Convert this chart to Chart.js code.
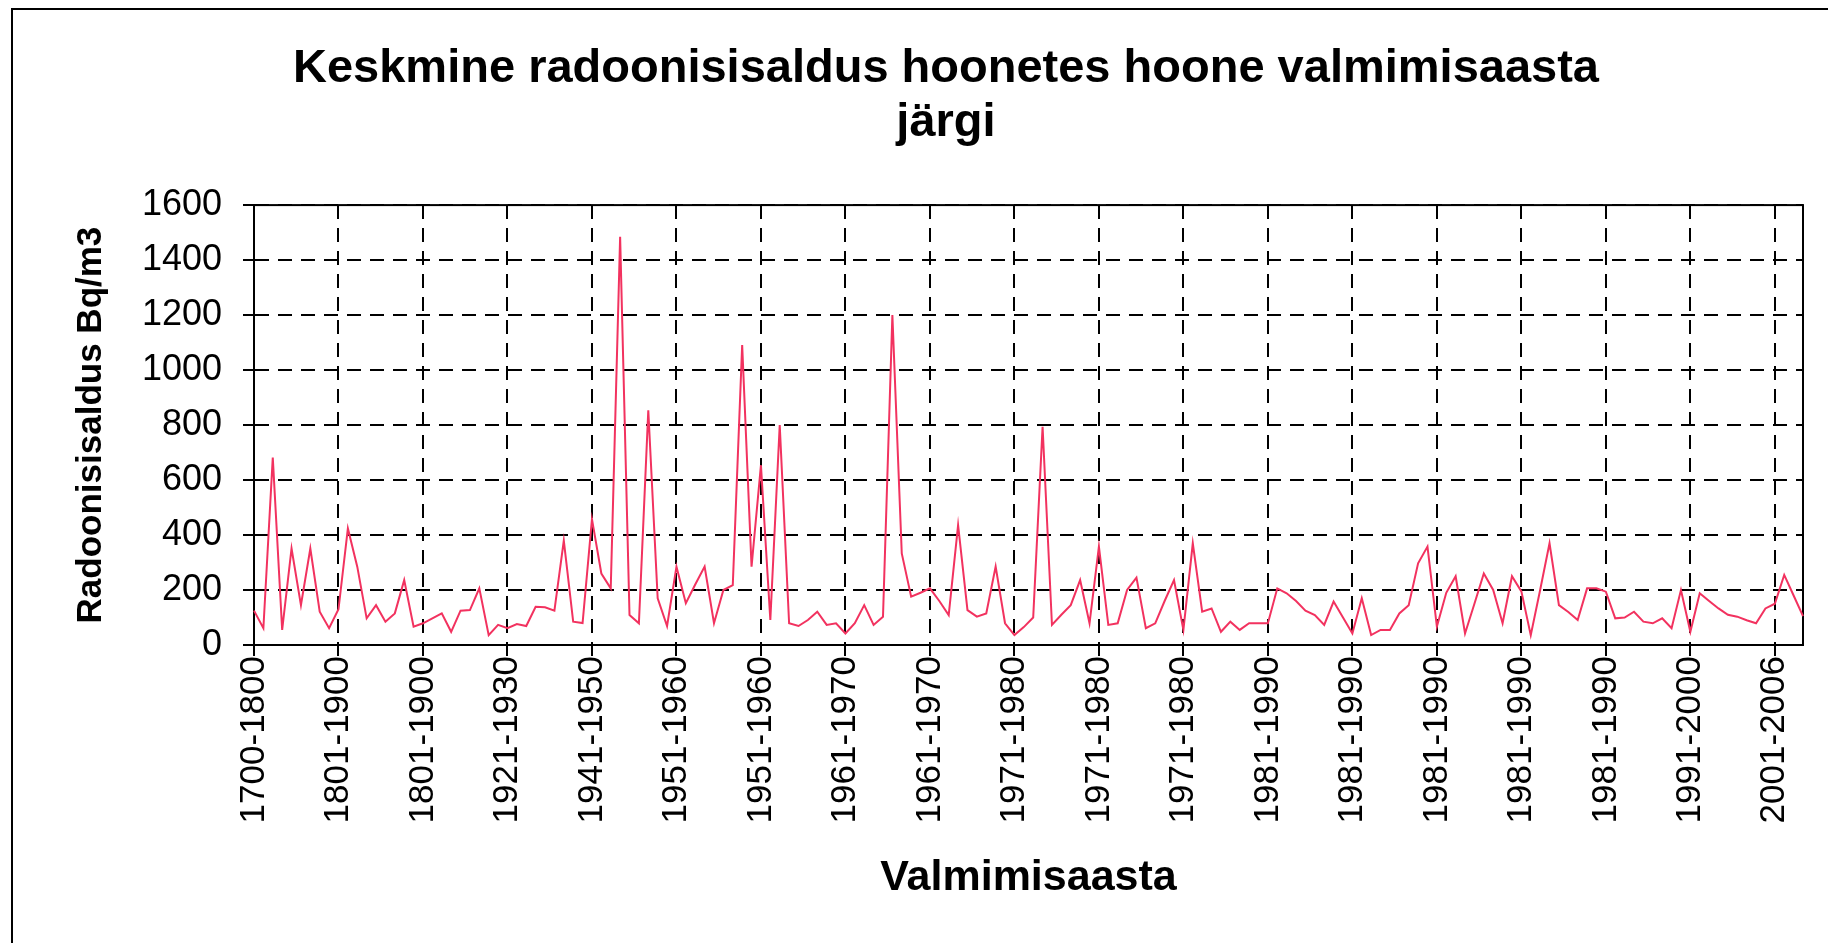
<!DOCTYPE html>
<html>
<head>
<meta charset="utf-8">
<title>Keskmine radoonisisaldus hoonetes</title>
<script src="https://cdn.jsdelivr.net/npm/chart.js@4.4.0/dist/chart.umd.min.js"></script>
<style>
    html, body { margin: 0; padding: 0; background: #fff; overflow: hidden; }
    #frame { position: absolute; left: 11px; top: 8px; width: 1900px; height: 1000px; border: 2px solid #000; }
    #chartBox { position: absolute; left: 0; top: 0; width: 1828px; height: 943px; }
</style>
</head>
<body>
<div id="frame"></div>
<div id="chartBox">
    <canvas id="radonCanvas" width="1828" height="943"></canvas>
</div>
<script>

// labels shown under every 9th point
const tickLabels = [
    '1700-1800', '1801-1900', '1801-1900', '1921-1930', '1941-1950',
    '1951-1960', '1951-1960', '1961-1970', '1961-1970', '1971-1980',
    '1971-1980', '1971-1980', '1981-1990', '1981-1990', '1981-1990',
    '1981-1990', '1981-1990', '1991-2000', '2001-2006'
];
const labelStep = 9;

// average radon, Bq/m3
const radonValues = [
    125, 61, 682, 55, 351, 145, 351, 121, 61,
    130, 424, 285, 97, 145, 85, 115, 236, 67,
    79, 97, 115, 48, 125, 127, 206, 36, 73,
    61, 76, 69, 139, 137, 125, 380, 85, 80,
    458, 260, 206, 1485, 109, 79, 854, 170, 69,
    285, 152, 220, 285, 79, 200, 218, 1091, 285,
    654, 91, 800, 79, 69, 91, 121, 73, 79,
    42, 79, 145, 73, 103, 1200, 333, 176, 190,
    206, 160, 109, 436, 127, 103, 115, 285, 79,
    36, 65, 100, 794, 73, 110, 145, 236, 79,
    358, 73, 79, 200, 245, 61, 79, 160, 236,
    55, 370, 121, 133, 48, 85, 55, 79, 79,
    79, 206, 188, 160, 125, 109, 73, 158, 100,
    42, 170, 36, 55, 55, 115, 145, 297, 358,
    67, 190, 250, 42, 150, 260, 200, 79, 250,
    195, 36, 200, 370, 145, 120, 91, 206, 206,
    194, 97, 100, 121, 85, 79, 97, 61, 200,
    48, 188, 160, 133, 110, 103, 90, 79, 133,
    150, 255, 180, 105
];

const categories = radonValues.map((v, i) => tickLabels[Math.floor(i / labelStep)]);

const fontFamily = "'Liberation Sans', Arial, sans-serif";
const gridDash = [14, 9];

const plotBorder = {
    id: 'plotBorder',
    beforeDatasetsDraw(chart) {
        const { ctx, chartArea } = chart;
        ctx.save();
        ctx.strokeStyle = '#000';
        ctx.lineWidth = 2;
        ctx.strokeRect(chartArea.left, chartArea.top,
            chartArea.right - chartArea.left, chartArea.bottom - chartArea.top);
        ctx.restore();
    }
};

const ctx = document.getElementById('radonCanvas').getContext('2d');

new Chart(ctx, {
    type: 'line',
    data: {
        labels: categories,
        datasets: [{
            label: 'Radoonisisaldus',
            data: radonValues,
            borderColor: '#f2325f',
            borderWidth: 2,
            pointRadius: 0,
            tension: 0,
            fill: false
        }]
    },
    options: {
        responsive: false,
        animation: false,
        layout: { padding: { left: 89, right: 25, top: 0, bottom: 0 } },
        plugins: {
            legend: { display: false },
            tooltip: { enabled: false },
            title: {
                display: true,
                text: ['Keskmine radoonisisaldus hoonetes hoone valmimisaasta', 'järgi'],
                color: '#000',
                font: { family: fontFamily, size: 47, weight: 'bold', lineHeight: 1.15 },
                padding: { top: 42, bottom: 55 }
            }
        },
        scales: {
            x: {
                afterFit(scale) {
                    scale.height = 298;
                    scale.paddingLeft = 0;
                    scale.paddingRight = 0;
                },
                grid: {
                    color: c => c.index % labelStep === 0 ? '#000' : 'rgba(0,0,0,0)',
                    tickColor: c => c.index % labelStep === 0 ? '#000' : 'rgba(0,0,0,0)',
                    lineWidth: 2,
                    tickWidth: 2,
                    tickLength: 11
                },
                border: { color: '#000', width: 2, dash: gridDash },
                ticks: {
                    autoSkip: false,
                    minRotation: 90,
                    maxRotation: 90,
                    padding: 0,
                    color: '#000',
                    font: { family: fontFamily, size: 35 },
                    callback: function (value, index) {
                        return index % labelStep === 0 ? this.getLabelForValue(value) : '';
                    }
                },
                title: {
                    display: true,
                    text: 'Valmimisaasta',
                    color: '#000',
                    font: { family: fontFamily, size: 43, weight: 'bold', lineHeight: 1.2 },
                    padding: { top: 0, bottom: 39 }
                }
            },
            y: {
                min: 0,
                max: 1600,
                afterFit(scale) { scale.width = 165; },
                grid: {
                    color: '#000',
                    tickColor: '#000',
                    lineWidth: 2,
                    tickWidth: 2,
                    tickLength: 11
                },
                border: { color: '#000', width: 2, dash: gridDash },
                ticks: {
                    stepSize: 200,
                    padding: 21,
                    color: '#000',
                    font: { family: fontFamily, size: 36 },
                    callback: value => String(value)
                },
                title: {
                    display: true,
                    text: 'Radoonisisaldus Bq/m3',
                    color: '#000',
                    font: { family: fontFamily, size: 35, weight: 'bold', lineHeight: 1.2 },
                    padding: { top: -19, bottom: 0 }
                }
            }
        }
    },
    plugins: [plotBorder]
});

</script>
</body>
</html>
